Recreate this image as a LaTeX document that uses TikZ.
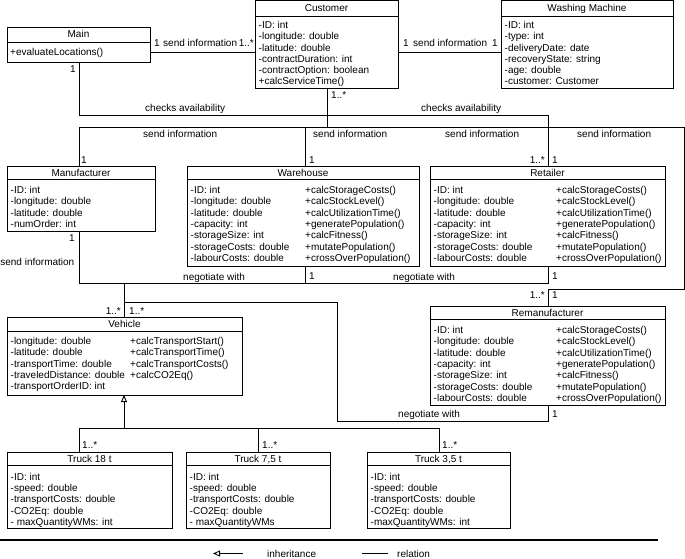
\documentclass[tikz,border=0pt]{standalone}
\usepackage{fontspec}
\setmainfont{Liberation Sans}
\usetikzlibrary{arrows.meta}
\newcommand\myfs{\fontsize{10}{11.3}\selectfont}
\begin{document}
\begin{tikzpicture}[x=1pt,y=-1pt,
  cls/.style={draw, line width=0.9pt, rectangle, anchor=north west, inner sep=0pt, outer sep=0pt},
  txt/.style={font=\myfs, inner sep=0pt, anchor=base west},
  ttl/.style={font=\myfs, inner sep=0pt, anchor=base},
  lbl/.style={font=\myfs, inner sep=0pt, anchor=base west},
  lble/.style={font=\myfs, inner sep=0pt, anchor=base east},
  conn/.style={line width=0.9pt},
  inh/.style={conn, -{Triangle[open, length=7pt, width=6pt]}},
]
\useasboundingbox (0,0) rectangle (685,559);

% ---------- classes ----------
\node[cls, minimum width=143pt, minimum height=35pt] (main) at (7,27) {};
\draw[conn] ([yshift=-15pt]main.north west) -- ([yshift=-15pt]main.north east);
\node[ttl] (mainT) at (78.5,38) {Main};
\node[txt] (mainM) at (10,55.5) {+evaluateLocations()};

\node[cls, minimum width=143pt, minimum height=87.5pt] (cust) at (255,0.5) {};
\draw[conn] ([yshift=-15.5pt]cust.north west) -- ([yshift=-15.5pt]cust.north east);
\node[ttl] (custT) at (326.5,11.7) {Customer};
\foreach \t [count=\i from 0] in {-ID: int,-longitude: double,-latitude: double,-contractDuration: int,-contractOption: boolean,+calcServiceTime()}
  \node[txt] (custA\i) at (258.5,28.5+11.3*\i) {\t};

\node[cls, minimum width=172pt, minimum height=87.5pt] (wm) at (501,0.5) {};
\draw[conn] ([yshift=-15.5pt]wm.north west) -- ([yshift=-15.5pt]wm.north east);
\node[ttl] (wmT) at (587,11.7) {Washing Machine};
\foreach \t [count=\i from 0] in {-ID: int,-type: int,-deliveryDate: date,-recoveryState: string,-age: double,-customer: Customer}
  \node[txt] (wmA\i) at (504.5,28.5+11.3*\i) {\t};

\node[cls, minimum width=148pt, minimum height=65pt] (manu) at (7,166) {};
\draw[conn] ([yshift=-13pt]manu.north west) -- ([yshift=-13pt]manu.north east);
\node[ttl] (manuT) at (81,176) {Manufacturer};
\foreach \t [count=\i from 0] in {-ID: int,-longitude: double,-latitude: double,-numOrder: int}
  \node[txt] (manuA\i) at (10.5,193.5+11.3*\i) {\t};

\node[cls, minimum width=232pt, minimum height=100pt] (ware) at (187,166) {};
\draw[conn] ([yshift=-13pt]ware.north west) -- ([yshift=-13pt]ware.north east);
\node[ttl] (wareT) at (303,176) {Warehouse};
\foreach \t [count=\i from 0] in {-ID: int,-longitude: double,-latitude: double,-capacity: int,-storageSize: int,-storageCosts: double,-labourCosts: double}
  \node[txt] (wareA\i) at (190.5,193.5+11.3*\i) {\t};
\foreach \t [count=\i from 0] in {+calcStorageCosts(),+calcStockLevel(),+calcUtilizationTime(),+generatePopulation(),+calcFitness(),+mutatePopulation(),+crossOverPopulation()}
  \node[txt] (wareM\i) at (305,193.5+11.3*\i) {\t};

\node[cls, minimum width=235pt, minimum height=100pt] (ret) at (430,166) {};
\draw[conn] ([yshift=-13pt]ret.north west) -- ([yshift=-13pt]ret.north east);
\node[ttl] (retT) at (547.5,176) {Retailer};
\foreach \t [count=\i from 0] in {-ID: int,-longitude: double,-latitude: double,-capacity: int,-storageSize: int,-storageCosts: double,-labourCosts: double}
  \node[txt] (retA\i) at (433.5,193.5+11.3*\i) {\t};
\foreach \t [count=\i from 0] in {+calcStorageCosts(),+calcStockLevel(),+calcUtilizationTime(),+generatePopulation(),+calcFitness(),+mutatePopulation(),+crossOverPopulation()}
  \node[txt] (retM\i) at (556,193.5+11.3*\i) {\t};

\node[cls, minimum width=235pt, minimum height=99pt] (reman) at (430,306) {};
\draw[conn] ([yshift=-13pt]reman.north west) -- ([yshift=-13pt]reman.north east);
\node[ttl] (remanT) at (547.5,316) {Remanufacturer};
\foreach \t [count=\i from 0] in {-ID: int,-longitude: double,-latitude: double,-capacity: int,-storageSize: int,-storageCosts: double,-labourCosts: double}
  \node[txt] (remanA\i) at (433.5,333.5+11.3*\i) {\t};
\foreach \t [count=\i from 0] in {+calcStorageCosts(),+calcStockLevel(),+calcUtilizationTime(),+generatePopulation(),+calcFitness(),+mutatePopulation(),+crossOverPopulation()}
  \node[txt] (remanM\i) at (556,333.5+11.3*\i) {\t};

\node[cls, minimum width=235pt, minimum height=78pt] (veh) at (7,317) {};
\draw[conn] ([yshift=-14pt]veh.north west) -- ([yshift=-14pt]veh.north east);
\node[ttl] (vehT) at (124.5,327.5) {Vehicle};
\foreach \t [count=\i from 0] in {-longitude: double,-latitude: double,-transportTime: double,-traveledDistance: double,-transportOrderID: int}
  \node[txt] (vehA\i) at (10.5,344.5+11.3*\i) {\t};
\foreach \t [count=\i from 0] in {+calcTransportStart(),+calcTransportTime(),+calcTransportCosts(),+calcCO2Eq()}
  \node[txt] (vehM\i) at (130,344.5+11.3*\i) {\t};

\node[cls, minimum width=165pt, minimum height=76pt] (t18) at (7,452) {};
\draw[conn] ([yshift=-13pt]t18.north west) -- ([yshift=-13pt]t18.north east);
\node[ttl] (t18T) at (89.5,462) {Truck 18 t};
\foreach \t [count=\i from 0] in {-ID: int,-speed: double,-transportCosts: double,-CO2Eq: double,- maxQuantityWMs: int}
  \node[txt] (t18A\i) at (10.5,480.5+11.2*\i) {\t};

\node[cls, minimum width=144pt, minimum height=76pt] (t75) at (186,452) {};
\draw[conn] ([yshift=-13pt]t75.north west) -- ([yshift=-13pt]t75.north east);
\node[ttl] (t75T) at (258,462) {Truck 7,5 t};
\foreach \t [count=\i from 0] in {-ID: int,-speed: double,-transportCosts: double,-CO2Eq: double,- maxQuantityWMs}
  \node[txt] (t75A\i) at (189.5,480.5+11.2*\i) {\t};

\node[cls, minimum width=143pt, minimum height=76pt] (t35) at (367,452) {};
\draw[conn] ([yshift=-13pt]t35.north west) -- ([yshift=-13pt]t35.north east);
\node[ttl] (t35T) at (438.5,462) {Truck 3,5 t};
\foreach \t [count=\i from 0] in {-ID: int,-speed: double,-transportCosts: double,-CO2Eq: double,-maxQuantityWMs: int}
  \node[txt] (t35A\i) at (370.5,480.5+11.2*\i) {\t};

% ---------- routing coordinates ----------
\coordinate (x79) at (79,0);
\coordinate (x124) at (124,0);
\coordinate (x258) at (258,0);
\coordinate (x305) at (305,0);
\coordinate (x327) at (327,0);
\coordinate (x337) at (337,0);
\coordinate (x439) at (439,0);
\coordinate (x548) at (548,0);
\coordinate (x684) at (684,0);
\coordinate (y52) at (0,52);
\coordinate (yca) at (0,115);
\coordinate (ysi) at (0,127);
\coordinate (yn) at (0,283);
\coordinate (yrm) at (0,289);
\coordinate (yv) at (0,302);
\coordinate (yb) at (0,421);
\coordinate (yi) at (0,428);

% ---------- connectors ----------
\draw[conn] (main.east |- y52) -- (cust.west |- y52);
\draw[conn] (cust.east |- y52) -- (wm.west |- y52);
\draw[conn] (main.south -| x79) |- (yca -| x548) -- (ret.north -| x548);
\draw[conn] (cust.south -| x327) -- (ysi -| x327);
\draw[conn] (manu.north -| x79) |- (ysi -| x684) |- (yrm -| x548) -- (reman.north -| x548);
\draw[conn] (ware.north -| x305) -- (ysi -| x305);
\draw[conn] (manu.south -| x79) |- (yn -| x548) -- (ret.south -| x548);
\draw[conn] (ware.south -| x305) -- (yn -| x305);
\draw[conn] (veh.north -| x124) -- (yn -| x124);
\draw[conn] (yv -| x124) -| (yb -| x337) -| (reman.south -| x548);
\draw[inh] (yi -| x124) -- (veh.south -| x124);
\draw[conn] (t18.north -| x79) |- (yi -| x439) -- (t35.north -| x439);
\draw[conn] (t75.north -| x258) -- (yi -| x258);

% ---------- labels ----------
\node[lbl] (l1) at (154,46.5) {1};
\node[lbl] (l2) at (163,46.5) {send information};
\node[lble] (l3) at (254,46.5) {1..*};
\node[lbl] (l4) at (403,46.5) {1};
\node[lbl] (l5) at (413,46.5) {send information};
\node[lble] (l6) at (498,46.5) {1};
\node[lble] (l7) at (76,72.5) {1};
\node[lbl] (l8) at (145,111.5) {checks availability};
\node[lbl] (l9) at (421,111.5) {checks availability};
\node[lbl] (l10) at (331,98.5) {1..*};
\node[lbl] (l11) at (143,137.5) {send information};
\node[lbl] (l12) at (313,137.5) {send information};
\node[lbl] (l13) at (445,137.5) {send information};
\node[lbl] (l14) at (577,137.5) {send information};
\node[lbl] (l15) at (81,163.5) {1};
\node[lbl] (l16) at (309,163.5) {1};
\node[lble] (l17) at (545,163.5) {1..*};
\node[lbl] (l18) at (552,163.5) {1};
\node[lble] (l19) at (75,241.5) {1};
\node[lble] (l20) at (74.5,265.5) {send information};
\node[lbl] (l21) at (309,279) {1};
\node[lbl] (l22) at (183,280) {negotiate with};
\node[lbl] (l23) at (393,280) {negotiate with};
\node[lbl] (l24) at (552,279) {1};
\node[lble] (l25) at (545,298) {1..*};
\node[lbl] (l26) at (552,298) {1};
\node[lble] (l27) at (121,314) {1..*};
\node[lbl] (l28) at (129,314) {1..*};
\node[lbl] (l29) at (398,417) {negotiate with};
\node[lbl] (l30) at (552,417) {1};
\node[lbl] (l31) at (82,448.5) {1..*};
\node[lbl] (l32) at (262,448.5) {1..*};
\node[lbl] (l33) at (442,448.5) {1..*};

% ---------- legend ----------
\coordinate (sepL) at (0,540);
\coordinate (sepR) at (658,540);
\draw[line width=2pt] (sepL) -- (sepR);
\coordinate (ia) at (243,553.5);
\coordinate (ib) at (213,553.5);
\draw[inh] (ia) -- (ib);
\node[lbl] (inhT) at (267,557) {inheritance};
\coordinate (ra) at (362,553.5);
\coordinate (rb) at (388,553.5);
\draw[conn] (ra) -- (rb);
\node[lbl] (relT) at (397,557) {relation};
\end{tikzpicture}
\end{document}
